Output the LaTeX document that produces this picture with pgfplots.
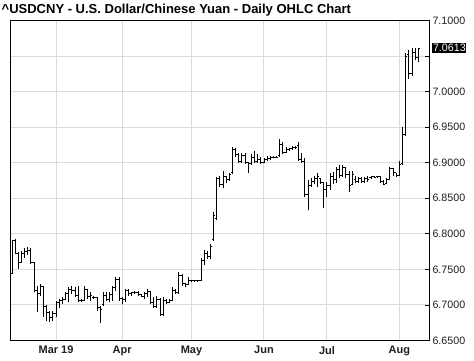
\documentclass[border=0pt]{standalone}
\usepackage{fontspec}
\setmainfont{Liberation Sans}
\usepackage{pgfplots}
\usepackage{pgfplotstable}
\pgfplotsset{compat=1.18}
\definecolor{gridgray}{RGB}{218,218,218}
\definecolor{labgray}{RGB}{30,30,30}

\pgfplotstableread{
i o h l c
-14 6.744 6.792 6.744 6.790
-13 6.790 6.793 6.772 6.773
-12 6.773 6.775 6.751 6.760
-11 6.760 6.776 6.759 6.772
-10 6.772 6.780 6.766 6.775
-9 6.775 6.781 6.770 6.777
-8 6.777 6.780 6.758 6.760
-7 6.760 6.761 6.718 6.720
-6 6.720 6.727 6.690 6.716
-5 6.716 6.730 6.712 6.726
-4 6.726 6.727 6.683 6.698
-3 6.698 6.700 6.678 6.690
-2 6.690 6.692 6.676 6.683
-1 6.683 6.692 6.678 6.688
0 6.688 6.706 6.683 6.704
1 6.704 6.709 6.695 6.706
2 6.706 6.711 6.702 6.708
3 6.708 6.718 6.707 6.716
4 6.716 6.725 6.704 6.722
5 6.722 6.727 6.716 6.720
6 6.720 6.725 6.711 6.713
7 6.713 6.727 6.704 6.707
8 6.707 6.709 6.704 6.706
9 6.706 6.727 6.706 6.722
10 6.722 6.723 6.709 6.712
11 6.712 6.718 6.706 6.714
12 6.711 6.713 6.709 6.710
13 6.710 6.711 6.692 6.696
14 6.696 6.699 6.675 6.694
15 6.700 6.718 6.698 6.714
16 6.714 6.718 6.706 6.708
17 6.708 6.718 6.704 6.715
18 6.715 6.727 6.706 6.724
19 6.724 6.739 6.720 6.736
20 6.736 6.739 6.706 6.709
21 6.709 6.711 6.702 6.708
22 6.708 6.723 6.704 6.720
23 6.720 6.723 6.713 6.716
24 6.716 6.718 6.713 6.717
25 6.717 6.719 6.716 6.718
26 6.718 6.719 6.713 6.715
27 6.715 6.716 6.711 6.712
28 6.712 6.718 6.709 6.716
29 6.716 6.723 6.711 6.719
30 6.719 6.720 6.702 6.704
31 6.704 6.711 6.695 6.698
32 6.698 6.712 6.696 6.708
33 6.708 6.710 6.685 6.686
34 6.686 6.711 6.684 6.706
35 6.706 6.709 6.702 6.704
36 6.704 6.708 6.703 6.706
37 6.706 6.725 6.705 6.721
38 6.721 6.723 6.716 6.718
39 6.718 6.746 6.716 6.742
40 6.742 6.743 6.727 6.730
41 6.730 6.731 6.725 6.729
42 6.729 6.739 6.728 6.734
43 6.734 6.734 6.733 6.734
44 6.734 6.734 6.733 6.734
45 6.734 6.734 6.733 6.734
46 6.734 6.766 6.734 6.762
47 6.762 6.777 6.756 6.772
48 6.772 6.776 6.764 6.768
49 6.768 6.786 6.764 6.782
50 6.792 6.830 6.790 6.826
51 6.822 6.880 6.820 6.878
52 6.878 6.882 6.866 6.870
53 6.870 6.888 6.864 6.880
54 6.880 6.882 6.872 6.876
55 6.876 6.886 6.874 6.884
56 6.886 6.922 6.884 6.918
57 6.918 6.920 6.908 6.912
58 6.912 6.914 6.899 6.902
59 6.902 6.914 6.900 6.910
60 6.910 6.913 6.898 6.900
61 6.900 6.901 6.885 6.899
62 6.899 6.912 6.897 6.908
63 6.908 6.917 6.899 6.902
64 6.902 6.912 6.900 6.905
65 6.905 6.908 6.898 6.900
66 6.900 6.907 6.899 6.905
67 6.905 6.910 6.903 6.906
68 6.906 6.909 6.904 6.908
69 6.908 6.910 6.906 6.908
70 6.908 6.910 6.907 6.908
71 6.910 6.934 6.908 6.926
72 6.926 6.929 6.912 6.915
73 6.915 6.922 6.913 6.919
74 6.919 6.921 6.917 6.920
75 6.920 6.924 6.918 6.922
76 6.922 6.924 6.919 6.921
77 6.924 6.929 6.902 6.904
78 6.904 6.913 6.900 6.902
79 6.902 6.906 6.852 6.856
80 6.856 6.875 6.833 6.868
81 6.868 6.878 6.866 6.874
82 6.874 6.882 6.870 6.878
83 6.878 6.885 6.866 6.880
84 6.878 6.879 6.870 6.872
85 6.872 6.873 6.836 6.862
86 6.862 6.873 6.852 6.868
87 6.868 6.885 6.862 6.880
88 6.880 6.887 6.870 6.876
89 6.876 6.894 6.871 6.890
90 6.890 6.897 6.878 6.882
91 6.882 6.897 6.880 6.893
92 6.893 6.894 6.878 6.884
93 6.884 6.889 6.859 6.868
94 6.870 6.889 6.868 6.884
95 6.876 6.882 6.871 6.874
96 6.874 6.880 6.872 6.878
97 6.878 6.880 6.871 6.873
98 6.873 6.880 6.872 6.878
99 6.878 6.882 6.873 6.877
100 6.879 6.882 6.877 6.880
101 6.880 6.882 6.878 6.879
102 6.880 6.882 6.879 6.881
103 6.881 6.882 6.871 6.873
104 6.873 6.875 6.868 6.870
105 6.871 6.878 6.870 6.876
106 6.876 6.894 6.875 6.892
107 6.892 6.892 6.882 6.886
108 6.886 6.886 6.880 6.882
109 6.882 6.903 6.881 6.897
110 6.899 6.950 6.897 6.940
111 6.940 7.054 6.938 7.050
112 7.052 7.058 7.018 7.025
113 7.025 7.062 7.022 7.055
114 7.055 7.062 7.044 7.048
115 7.048 7.061 7.042 7.0613
}\ohlc

\begin{document}
\begin{tikzpicture}
\path[use as bounding box] (-10.7pt,-20.5pt) rectangle (463.3pt,340.5pt);
\begin{axis}[
  at={(0,0)}, anchor=south west,
  scale only axis, width=418.3pt, height=320pt,
  xmin=-14.4, xmax=118.4, ymin=6.65, ymax=7.10,
  axis line style={black, line width=1pt},
  xtick={0,21,43,66,86,109},
  xticklabels={Mar 19,Apr,May,Jun,Jul,Aug},
  x tick label style={font=\fontsize{11}{12}\selectfont\bfseries, text=labgray, yshift=-2pt},
  xtick style={draw=none},
  ytick={6.65,6.70,6.75,6.80,6.85,6.90,6.95,7.00,7.05,7.10},
  yticklabels={6.6500,6.7000,6.7500,6.8000,6.8500,6.9000,6.9500,7.0000,,7.1000},
  yticklabel pos=right,
  ytick pos=right,
  tick align=inside,
  major tick length=4.5pt,
  ytick style={black, line width=0.8pt},
  y tick label style={font=\fontsize{10.7}{12}\selectfont, text=labgray},
  grid=major, grid style={gridgray, line width=1pt},
]
\addplot[draw=none, mark=none, error bars/.cd, y dir=plus, y explicit, error mark=none,
  error bar style={draw=black, line width=0.9pt}]
  table[x=i, y=l, y error expr=\thisrow{h}-\thisrow{l}] {\ohlc};
\addplot[draw=none, mark=none, error bars/.cd, x dir=minus, x fixed=0.5, error mark=none,
  error bar style={draw=black, line width=0.9pt}]
  table[x=i, y=o] {\ohlc};
\addplot[draw=none, mark=none, error bars/.cd, x dir=plus, x fixed=0.5, error mark=none,
  error bar style={draw=black, line width=0.9pt}]
  table[x=i, y=c] {\ohlc};
\coordinate (lv) at (axis cs:118.4,7.0613);
\end{axis}
\node[anchor=west, fill=black, text=white, inner xsep=0.6pt, inner ysep=1.2pt,
  text height=7.7pt, text depth=0pt, font=\fontsize{10.7}{12}\selectfont] at ([xshift=3.2pt]lv) {7.0613};
\node[anchor=base west, inner sep=0pt, font=\fontsize{13}{15}\selectfont\bfseries]
  at (-9.2pt,327.2pt) {\textasciicircum USDCNY - U.S. Dollar/Chinese Yuan - Daily OHLC Chart};
\end{tikzpicture}
\end{document}
